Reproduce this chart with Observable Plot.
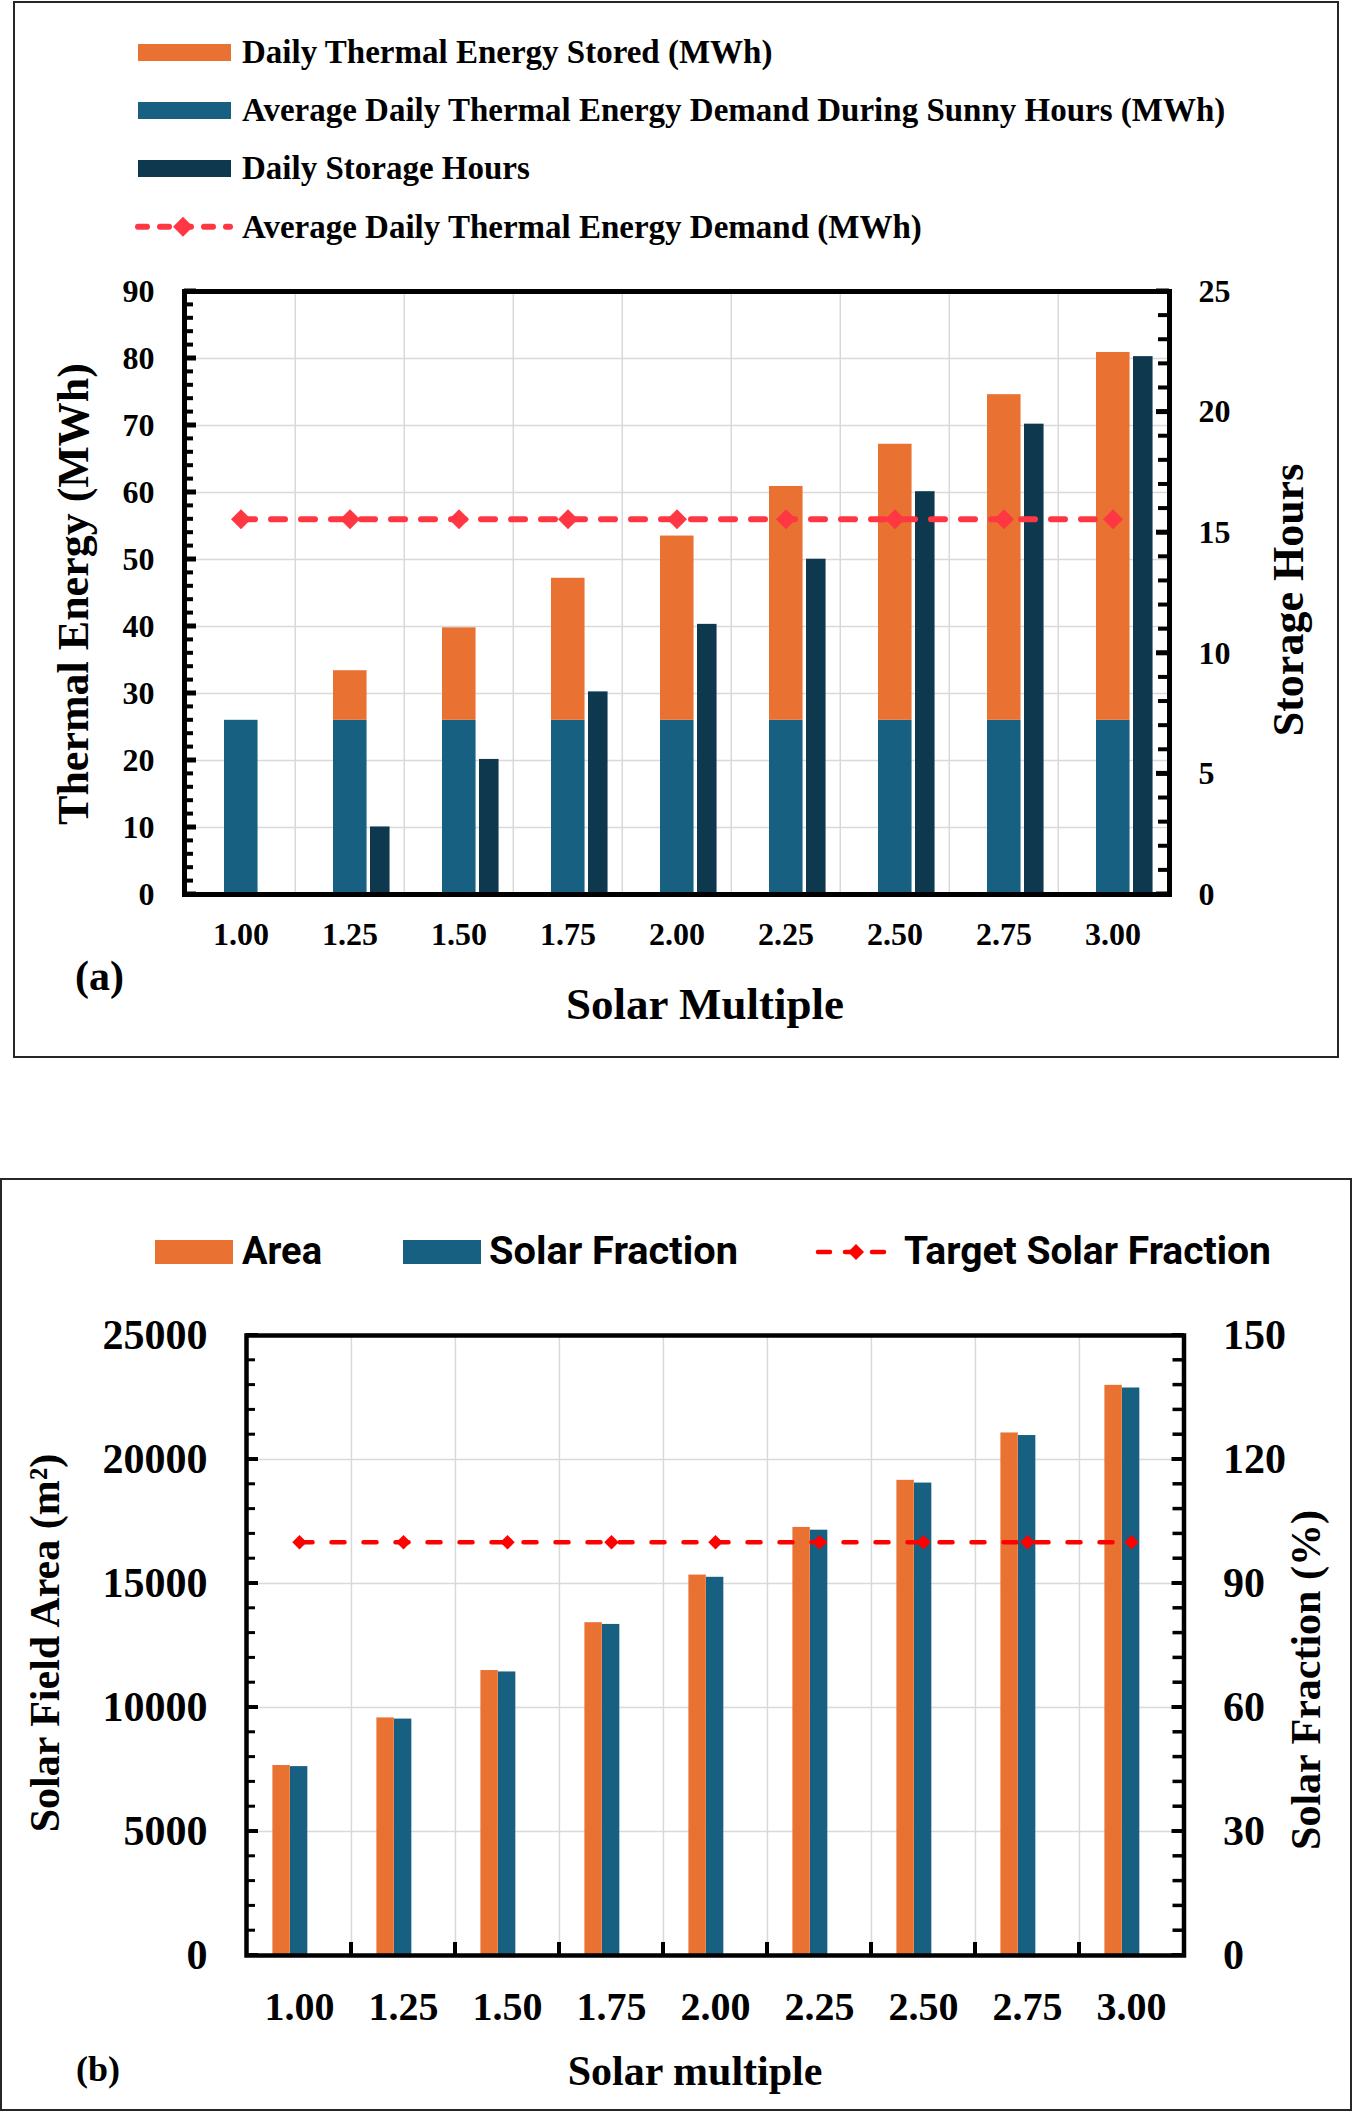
<!DOCTYPE html>
<html>
<head>
<meta charset="utf-8">
<script src="https://cdn.jsdelivr.net/npm/d3@7"></script>
<script src="https://cdn.jsdelivr.net/npm/@observablehq/plot@0.6"></script>
<style>
html, body { margin: 0; padding: 0; background: #fff; }
#page { position: relative; width: 1353px; height: 2112px; overflow: hidden; background: #fff; }
#page > svg { position: absolute; left: 0; }
</style>
</head>
<body>
<div id="page"></div>
<script>
// ---------- data: panel (a) ----------
const solarMultiple = ["1.00", "1.25", "1.50", "1.75", "2.00", "2.25", "2.50", "2.75", "3.00"];
const sunnyDemand = [26, 26, 26, 26, 26, 26, 26, 26, 26];               // MWh (blue, bottom of stack)
const storedEnergy = [0, 7.4, 13.8, 21.2, 27.5, 34.9, 41.2, 48.6, 54.9]; // MWh (orange, top of stack)
const storageHours = [0, 2.8, 5.6, 8.4, 11.2, 13.9, 16.7, 19.5, 22.3];   // h (right axis)
const avgDemand = [56, 56, 56, 56, 56, 56, 56, 56, 56];                  // MWh (red dashed)
const energyTicks = [0, 10, 20, 30, 40, 50, 60, 70, 80, 90];
const hoursTicks = [0, 5, 10, 15, 20, 25];

// ---------- data: panel (b) ----------
const solarArea = [7660, 9580, 11490, 13420, 15340, 17260, 19160, 21070, 22990]; // m²
const solarFraction = [45.7, 57.2, 68.6, 80.1, 91.5, 102.9, 114.3, 125.8, 137.3]; // %
const targetFraction = [100, 100, 100, 100, 100, 100, 100, 100, 100];           // %
const areaTicks = [0, 5000, 10000, 15000, 20000, 25000];
const fractionTicks = [0, 30, 60, 90, 120, 150];

// ---------- styles ----------
const SERIF = "'Liberation Serif', 'Times New Roman', Times, serif";
const SANS = "Roboto, 'Liberation Sans', Arial, sans-serif";
const ORANGE = "#E97132", BLUE = "#176082", DARK = "#0E384E";
const RED_A = "#FF3742", RED_B = "#FF0000", GRID = "#d9d9d9";
const W = 1353;
const page = document.getElementById("page");

// ================= PANEL (a) =================
const A = {h: 1060, mt: 291, mb: 166, ml: 184, mr: 184};
const fwA = W - A.ml - A.mr;
const bwA = fwA / solarMultiple.length;
const hoursToEnergy = d3.scaleLinear([0, 25], [0, 90]);

const seriesA = ["Average Daily Thermal Energy Demand During Sunny Hours (MWh)", "Daily Thermal Energy Stored (MWh)"];
const stackRows = solarMultiple.flatMap((s, i) => [
  {sm: s, series: seriesA[0], value: sunnyDemand[i]},
  {sm: s, series: seriesA[1], value: storedEnergy[i]}
]);
const hoursRows = solarMultiple.map((s, i) => ({sm: s, hours: storageHours[i]}));
const demandRows = solarMultiple.map((s, i) => ({sm: s, v: avgDemand[i]}));

const chartA = Plot.plot({
  width: W, height: A.h,
  marginTop: A.mt, marginBottom: A.mb, marginLeft: A.ml, marginRight: A.mr,
  style: {fontFamily: SERIF, fontWeight: "bold", color: "#000", background: "transparent", overflow: "visible"},
  x: {type: "band", domain: solarMultiple, padding: 0},
  y: {domain: [0, 90]},
  color: {domain: seriesA, range: [BLUE, ORANGE]},
  marks: [
    Plot.ruleY(energyTicks.slice(1, -1), {y: d => d, stroke: GRID, strokeWidth: 1.5}),
    Plot.ruleX(solarMultiple.slice(1), {x: d => d, dx: -bwA / 2, stroke: GRID, strokeWidth: 1.5}),
    Plot.barY(stackRows, {x: "sm", y: "value", fill: "series", insetLeft: 38, insetRight: bwA - 72}),
    Plot.barY(hoursRows, {x: "sm", y: d => hoursToEnergy(d.hours), fill: DARK, insetLeft: 75, insetRight: bwA - 95}),
    Plot.line(demandRows, {x: "sm", y: "v", stroke: RED_A, strokeWidth: 6, strokeDasharray: "14,16", strokeLinecap: "round"}),
    Plot.dot(demandRows, {x: "sm", y: "v", symbol: "diamond2", r: 9, fill: RED_A, stroke: "none"}),
    Plot.frame({stroke: "#000", strokeWidth: 5}),
    Plot.axisY({ticks: energyTicks, anchor: "left", tickSize: 0, tickPadding: 30, fontSize: 32, label: null}),
    Plot.axisY({ticks: hoursTicks.map(d => hoursToEnergy(d)), tickFormat: d => String(Math.round(hoursToEnergy.invert(d))),
      anchor: "right", tickSize: 0, tickPadding: 29, fontSize: 32, label: null}),
    Plot.axisX({anchor: "bottom", tickSize: 0, tickPadding: 28, fontSize: 32, label: null})
  ]
});
chartA.style.top = "0px";
page.appendChild(chartA);

// ================= PANEL (b) =================
const B = {top: 1100, h: 1012, mt: 235, mb: 157, ml: 246, mr: 169.5};
const fwB = W - B.ml - B.mr;
const bwB = fwB / solarMultiple.length;
const fracToArea = d3.scaleLinear([0, 150], [0, 25000]);

const areaRows = solarMultiple.map((s, i) => ({sm: s, area: solarArea[i]}));
const fracRows = solarMultiple.map((s, i) => ({sm: s, frac: solarFraction[i]}));
const targetRows = solarMultiple.map((s, i) => ({sm: s, t: targetFraction[i]}));

const chartB = Plot.plot({
  width: W, height: B.h,
  marginTop: B.mt, marginBottom: B.mb, marginLeft: B.ml, marginRight: B.mr,
  style: {fontFamily: SERIF, fontWeight: "bold", color: "#000", background: "transparent", overflow: "visible"},
  x: {type: "band", domain: solarMultiple, padding: 0},
  y: {domain: [0, 25000]},
  marks: [
    Plot.ruleY(areaTicks.slice(1, -1), {y: d => d, stroke: GRID, strokeWidth: 1.5}),
    Plot.ruleX(solarMultiple.slice(1), {x: d => d, dx: -bwB / 2, stroke: GRID, strokeWidth: 1.5}),
    Plot.barY(areaRows, {x: "sm", y: "area", fill: ORANGE, insetLeft: 25.4, insetRight: bwB - 43}),
    Plot.barY(fracRows, {x: "sm", y: d => fracToArea(d.frac), fill: BLUE, insetLeft: 43, insetRight: bwB - 60.5}),
    Plot.line(targetRows, {x: "sm", y: d => fracToArea(d.t), stroke: RED_B, strokeWidth: 4.5, strokeDasharray: "13,19", strokeLinecap: "round"}),
    Plot.dot(targetRows, {x: "sm", y: d => fracToArea(d.t), symbol: "diamond2", r: 6.5, fill: RED_B, stroke: "none"}),
    Plot.frame({stroke: "#000", strokeWidth: 4.5}),
    Plot.axisY({ticks: areaTicks, tickFormat: d => String(d), anchor: "left", tickSize: 0, tickPadding: 39, fontSize: 42, label: null}),
    Plot.axisY({ticks: fractionTicks.map(d => fracToArea(d)), tickFormat: d => String(Math.round(fracToArea.invert(d))),
      anchor: "right", tickSize: 0, tickPadding: 39, fontSize: 42, label: null}),
    Plot.axisX({anchor: "bottom", tickSize: 0, tickPadding: 36, fontSize: 40, label: null})
  ]
});
chartB.style.top = B.top + "px";
page.appendChild(chartB);

// ================= overlay: borders, inward ticks, legends, titles =================
const ov = d3.create("svg").attr("width", W).attr("height", 2112)
  .style("top", "0px").style("pointer-events", "none");
function txt(x, y, s, o = {}) {
  const t = ov.append("text")
    .attr("transform", `translate(${x},${y})` + (o.rotate ? ` rotate(${o.rotate})` : ""))
    .attr("text-anchor", o.anchor || "start")
    .attr("font-family", o.family || SERIF)
    .attr("font-weight", "bold")
    .attr("font-size", o.size)
    .attr("fill", "#000")
    .text(s);
  if (o.length) t.attr("textLength", o.length).attr("lengthAdjust", "spacingAndGlyphs");
  return t;
}
function seg(x1, y1, x2, y2, w, color = "#000") {
  ov.append("line").attr("x1", x1).attr("y1", y1).attr("x2", x2).attr("y2", y2)
    .attr("stroke", color).attr("stroke-width", w);
}
function diamond(cx, cy, r, fill) {
  ov.append("path").attr("d", `M${cx},${cy - r}L${cx + r},${cy}L${cx},${cy + r}L${cx - r},${cy}Z`).attr("fill", fill);
}

// inward tick marks, placed with the charts' own scales
const yA = chartA.scale("y");
const leftA = A.ml, rightA = W - A.mr;
d3.range(0, 91, 2).forEach(v => { const y = yA.apply(v); seg(leftA, y, leftA + 9, y, 4); });
energyTicks.forEach(v => { const y = yA.apply(v); seg(leftA, y, leftA + 12, y, 5); });
d3.range(0, 26, 1).forEach(h => { const y = yA.apply(hoursToEnergy(h)); seg(rightA - 11, y, rightA, y, 4); });
hoursTicks.forEach(h => { const y = yA.apply(hoursToEnergy(h)); seg(rightA - 13, y, rightA, y, 5); });

const yB = chartB.scale("y"), xB = chartB.scale("x");
const leftB = B.ml, rightB = W - B.mr, bottomB = B.top + B.h - B.mb;
d3.range(0, 25001, 1000).forEach(v => { const y = B.top + yB.apply(v); seg(leftB, y, leftB + 9, y, 3); });
areaTicks.forEach(v => { const y = B.top + yB.apply(v); seg(leftB, y, leftB + 12, y, 4); });
d3.range(0, 151, 6).forEach(f => { const y = B.top + yB.apply(fracToArea(f)); seg(rightB - 11, y, rightB, y, 3.5); });
fractionTicks.forEach(f => { const y = B.top + yB.apply(fracToArea(f)); seg(rightB - 12, y, rightB, y, 4); });
solarMultiple.slice(1).forEach(s => { const x = xB.apply(s); seg(x, bottomB - 13, x, bottomB, 4); });

// panel borders
ov.append("rect").attr("x", 14).attr("y", 2).attr("width", 1324).attr("height", 1055)
  .attr("fill", "none").attr("stroke", "#262626").attr("stroke-width", 2);
ov.append("rect").attr("x", 1).attr("y", 1179).attr("width", 1350).attr("height", 931)
  .attr("fill", "none").attr("stroke", "#262626").attr("stroke-width", 2);

// legend (a)
const legA = [
  {label: "Daily Thermal Energy Stored (MWh)", color: ORANGE},
  {label: "Average Daily Thermal Energy Demand During Sunny Hours (MWh)", color: BLUE},
  {label: "Daily Storage Hours", color: DARK}
];
legA.forEach((d, i) => {
  ov.append("rect").attr("x", 138).attr("y", 44 + i * 58).attr("width", 93).attr("height", 17).attr("fill", d.color);
  txt(242, 62.7 + i * 58, d.label, {size: 33});
});
ov.append("line").attr("x1", 138).attr("x2", 230).attr("y1", 226.7).attr("y2", 226.7)
  .attr("stroke", RED_A).attr("stroke-width", 6).attr("stroke-dasharray", "9,13").attr("stroke-linecap", "round");
diamond(183, 226.7, 10, RED_A);
txt(242, 237.5, "Average Daily Thermal Energy Demand (MWh)", {size: 33});

// titles (a)
txt(88, 594, "Thermal Energy (MWh)", {size: 44, anchor: "middle", rotate: -90});
txt(1303, 600, "Storage Hours", {size: 44, anchor: "middle", rotate: -90});
txt(705, 1019, "Solar Multiple", {size: 45, anchor: "middle"});
txt(75, 990, "(a)", {size: 42});

// legend (b)
ov.append("rect").attr("x", 155).attr("y", 1240).attr("width", 78).attr("height", 24).attr("fill", ORANGE);
txt(242, 1264, "Area", {size: 39, family: SANS, length: 80});
ov.append("rect").attr("x", 403).attr("y", 1240).attr("width", 78).attr("height", 24).attr("fill", BLUE);
txt(489, 1264, "Solar Fraction", {size: 39, family: SANS, length: 249});
ov.append("line").attr("x1", 818).attr("x2", 895).attr("y1", 1252).attr("y2", 1252)
  .attr("stroke", RED_B).attr("stroke-width", 4.5).attr("stroke-dasharray", "12,15").attr("stroke-linecap", "round");
diamond(856, 1252, 8, RED_B);
txt(904, 1264, "Target Solar Fraction", {size: 39, family: SANS, length: 367});

// titles (b)
txt(59, 1643, "Solar Field Area (m²)", {size: 42, anchor: "middle", rotate: -90});
txt(1320, 1680, "Solar Fraction (%)", {size: 42, anchor: "middle", rotate: -90});
txt(695, 2085, "Solar multiple", {size: 42, anchor: "middle"});
txt(76, 2081, "(b)", {size: 36});

page.appendChild(ov.node());
</script>
</body>
</html>
